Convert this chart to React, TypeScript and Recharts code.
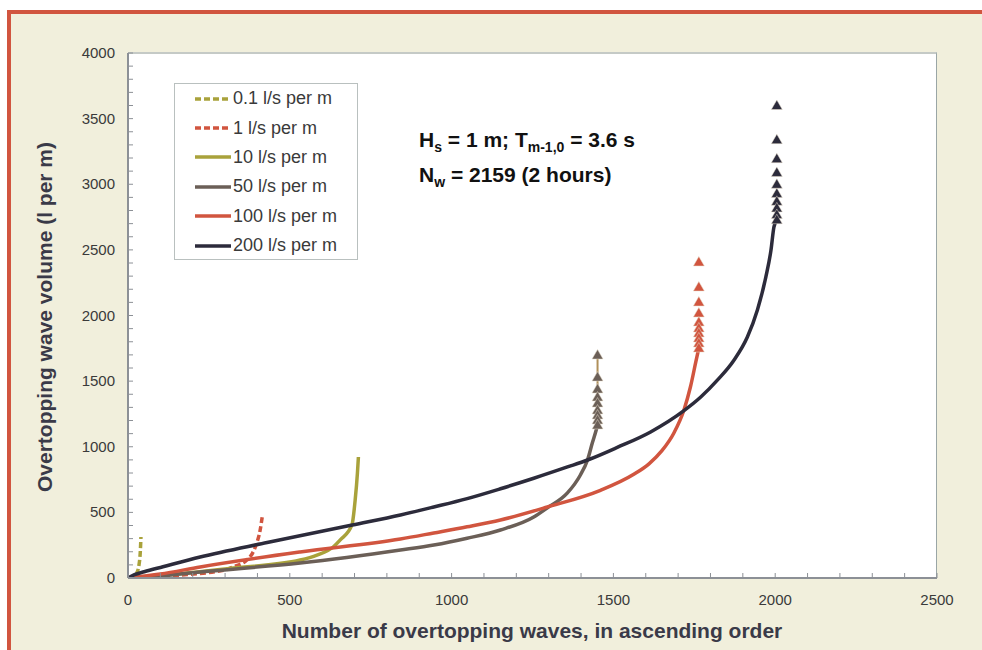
import { ComposedChart, Line, Scatter, XAxis, YAxis } from 'recharts';

// overtopping wave number (ascending order) vs volume in l per m
const q01: [number, number][] = [[0, 0], [15, 10], [27, 38], [34, 100], [38, 200], [40, 312]];
const q1: [number, number][] = [[0, 0], [150, 20], [300, 62], [325, 84], [367, 137], [385, 190], [398, 267], [408, 360], [415, 470]];
const q10: [number, number][] = [[0, 0], [120, 23], [325, 76], [532, 137], [584, 175], [634, 236], [656, 290], [692, 404], [702, 594], [709, 800], [712, 922]];
const q50: [number, number][] = [[0, 0], [100, 15], [223, 46], [532, 114], [842, 213], [945, 251], [1048, 303], [1151, 366], [1254, 465], [1296, 535], [1358, 648], [1398, 785], [1420, 899], [1435, 1030], [1446, 1120], [1451, 1166]];
const q100: [number, number][] = [[0, 0], [100, 30], [223, 84], [532, 198], [842, 297], [945, 343], [1048, 390], [1151, 442], [1296, 541], [1460, 668], [1563, 790], [1610, 870], [1650, 970], [1687, 1105], [1718, 1280], [1738, 1455], [1755, 1650], [1764, 1752]];
const q200: [number, number][] = [[0, 0], [20, 25], [50, 48], [108, 86], [223, 160], [430, 270], [693, 404], [842, 480], [945, 541], [1048, 605], [1151, 680], [1254, 760], [1358, 846], [1420, 899], [1512, 995], [1615, 1113], [1718, 1275], [1770, 1379], [1822, 1509], [1873, 1661], [1914, 1836], [1945, 2042], [1971, 2293], [1987, 2499], [1996, 2674], [2005, 2730]];

// largest overtopping volumes, plotted as triangles
const peaks50Wave = 1451;
const peaks50 = [1699, 1531, 1440, 1379, 1333, 1280, 1242, 1204, 1166];
const peaks100Wave = 1764;
const peaks100 = [2408, 2217, 2103, 2019, 1950, 1905, 1867, 1829, 1790, 1752];
const peaks200Wave = 2005;
const peaks200 = [3600, 3340, 3195, 3090, 3000, 2930, 2870, 2820, 2770, 2730];

const seriesNames = ['0.1 l/s per m', '1 l/s per m', '10 l/s per m', '50 l/s per m', '100 l/s per m', '200 l/s per m'];
const seriesData = [q01, q1, q10, q50, q100, q200];
const seriesColors = ['#a9a23b', '#d1553f', '#a9a23b', '#6b5f57', '#d1553f', '#2c2b3b'];
const seriesDash = ['6 3', '6 3', '', '', '', ''];

const xTicks = Array.from({ length: 26 }, (_, i) => i * 100);
const yTicks = Array.from({ length: 41 }, (_, i) => i * 100);

const toRows = (pts: [number, number][]) => pts.map(([n, v]) => ({ n, v }));
const toPeaks = (wave: number, vals: number[]) => vals.map((v) => ({ n: wave, v }));

const font = '"Liberation Sans", Arial, sans-serif';
const axisGrey = '#8c9096';

const XTick = ({ x, y, payload }: any) => (
  <g>
    <line x1={x} x2={x} y1={y} y2={y - 5} stroke={axisGrey} />
    {payload.value % 500 === 0 && (
      <text x={x} y={y + 27} textAnchor="middle" fontSize={15} fill="#3a3a3a" fontFamily={font}>
        {payload.value}
      </text>
    )}
  </g>
);

const YTick = ({ x, y, payload }: any) => (
  <g>
    <line x1={x} x2={x + 5} y1={y} y2={y} stroke={axisGrey} />
    {payload.value % 500 === 0 && (
      <text x={x - 13} y={y + 5} textAnchor="end" fontSize={15} fill="#3a3a3a" fontFamily={font}>
        {payload.value}
      </text>
    )}
  </g>
);

const triangle = (color: string) => (props: any) => {
  const { cx, cy } = props;
  return <path d={`M${cx},${cy - 5.5} L${cx + 5.5},${cy + 4} L${cx - 5.5},${cy + 4} Z`} fill={color} stroke="#e6dccb" strokeWidth={0.5} />;
};

const LegendBox = () => (
  <div style={{ position: 'absolute', left: 174, top: 83, width: 182, height: 175, border: '1px solid #b9c0bf', background: '#fff', boxSizing: 'content-box' }}>
    {seriesNames.map((name, i) => (
      <div key={name} style={{ display: 'flex', alignItems: 'center', height: 29.4 }}>
        <svg width={58} height={10}>
          <line x1={20} x2={56} y1={5} y2={5} stroke={seriesColors[i]} strokeWidth={3.5} strokeDasharray={seriesDash[i] || undefined} />
        </svg>
        <span style={{ fontFamily: font, fontSize: 18, color: '#3a3a3a', whiteSpace: 'nowrap' }}>{name}</span>
      </div>
    ))}
  </div>
);

export default function App() {
  return (
    <div style={{ position: 'absolute', left: 0, top: 0, width: 982, height: 650, background: '#fff', overflow: 'hidden' }}>
      <div style={{ position: 'absolute', left: 7, top: 10, width: 975, height: 640, background: '#f1efdc', borderTop: '4px solid #d1553f', borderLeft: '4px solid #d1553f', boxSizing: 'border-box' }} />
      <div style={{ position: 'absolute', left: 128, top: 52, width: 809, height: 526, background: '#fff', borderTop: '2px solid #c5cac6', borderRight: '1px solid #9aa6a6', boxSizing: 'border-box' }} />
      <div style={{ position: 'absolute', left: 0, top: 0 }}>
        <ComposedChart width={982} height={650} margin={{ top: 53, right: 45, bottom: 42, left: 68 }}>
          <XAxis type="number" dataKey="n" domain={[0, 2500]} ticks={xTicks} interval={0} height={30} tickSize={0} tickMargin={0} tickLine={false} axisLine={{ stroke: axisGrey, strokeWidth: 2 }} tick={<XTick />} allowDataOverflow />
          <YAxis type="number" dataKey="v" domain={[0, 4000]} ticks={yTicks} interval={0} width={60} tickSize={0} tickMargin={0} tickLine={false} axisLine={{ stroke: axisGrey, strokeWidth: 2 }} tick={<YTick />} allowDataOverflow />
          {seriesData.map((pts, i) => (
            <Line key={seriesNames[i]} name={seriesNames[i]} data={toRows(pts)} dataKey="v" type="monotone" stroke={seriesColors[i]} strokeWidth={3.5} strokeDasharray={seriesDash[i] || undefined} dot={false} activeDot={false} isAnimationActive={false} />
          ))}
          <Scatter name="50 peaks" data={toPeaks(peaks50Wave, peaks50)} line={{ stroke: '#b0905a', strokeWidth: 2 }} shape={triangle('#6b5f57')} legendType="none" isAnimationActive={false} />
          <Scatter name="100 peaks" data={toPeaks(peaks100Wave, peaks100)} shape={triangle('#d1553f')} legendType="none" isAnimationActive={false} />
          <Scatter name="200 peaks" data={toPeaks(peaks200Wave, peaks200)} shape={triangle('#2c2b3b')} legendType="none" isAnimationActive={false} />
        </ComposedChart>
      </div>
      <LegendBox />
      <div style={{ position: 'absolute', left: 419, top: 126, fontFamily: font, fontWeight: 'bold', fontSize: 21, color: '#111', lineHeight: '27px', whiteSpace: 'nowrap' }}>
        <div>H<sub style={{ fontSize: 14 }}>s</sub> = 1 m; T<sub style={{ fontSize: 14 }}>m-1,0</sub> = 3.6 s</div>
        <div>N<sub style={{ fontSize: 14 }}>w</sub> = 2159 (2 hours)</div>
      </div>
      <div style={{ position: 'absolute', left: 132, width: 800, top: 619, textAlign: 'center', fontFamily: font, fontWeight: 'bold', fontSize: 21, color: '#3a3a48' }}>
        Number of overtopping waves, in ascending order
      </div>
      <div style={{ position: 'absolute', left: 45, top: 318, width: 0, height: 0 }}>
        <div style={{ position: 'absolute', left: -250, top: -13, width: 500, textAlign: 'center', transform: 'rotate(-90deg)', fontFamily: font, fontWeight: 'bold', fontSize: 21, color: '#3a3a48', whiteSpace: 'nowrap' }}>
          Overtopping wave volume (l per m)
        </div>
      </div>
    </div>
  );
}
